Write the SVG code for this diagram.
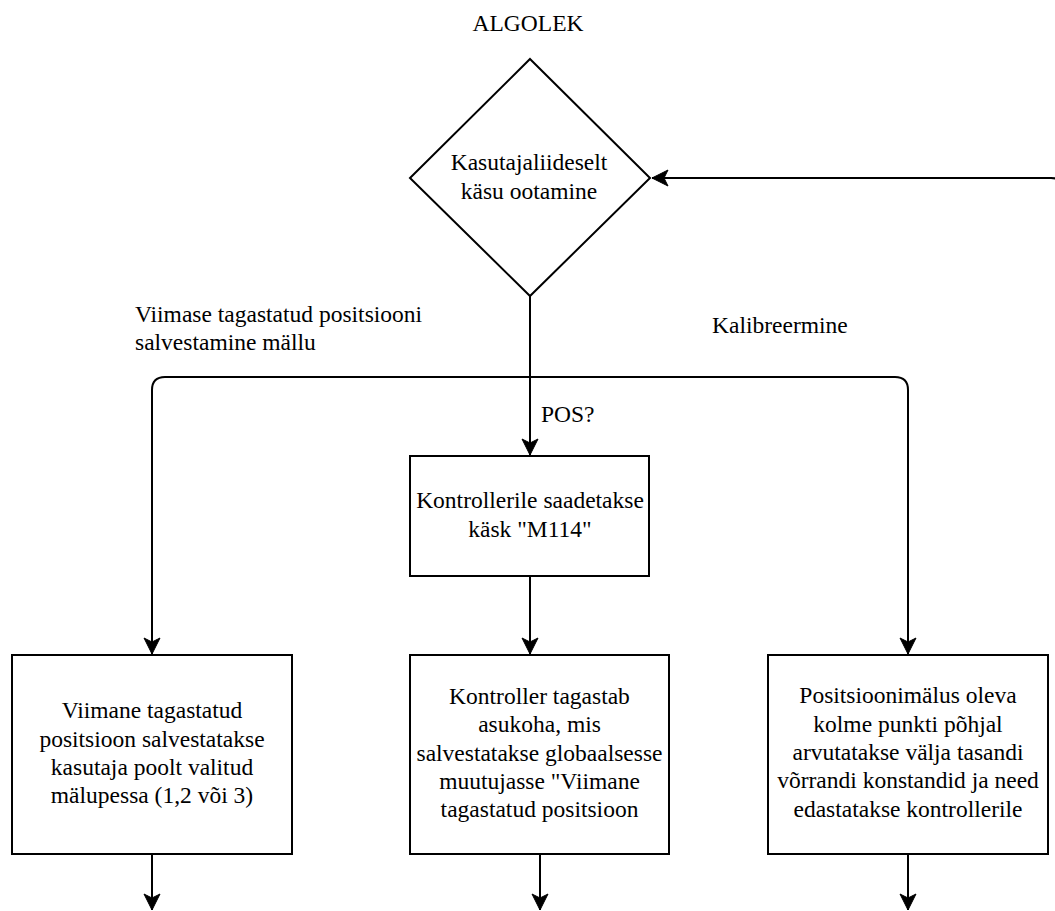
<svg xmlns="http://www.w3.org/2000/svg" width="1055" height="911" viewBox="0 0 1055 911">
  <style>
    .shape { fill: #ffffff; stroke: #000000; stroke-width: 2; }
    .wire { fill: none; stroke: #000000; stroke-width: 2; }
    .t { font-family: 'Liberation Serif', 'DejaVu Serif', serif; font-size: 23.5px; fill: #000000; }
    .c { text-anchor: middle; }
  </style>
  <defs>
    <marker id="arrow" viewBox="-17 -9 19 18" refX="0" refY="0" markerWidth="19" markerHeight="18" markerUnits="userSpaceOnUse" orient="auto">
      <path d="M 0 0 L -16 -8 L -12 0 L -16 8 Z" fill="#000000" stroke="#000000" stroke-width="1"/>
    </marker>
  </defs>

  <rect width="1055" height="911" fill="#ffffff"/>

  <text id="title" class="t c" x="528" y="31">ALGOLEK</text>

  <!-- connectors -->
  <g id="connectors">
    <!-- loop back into the decision from the right -->
    <path class="wire" d="M 1064 260 L 1064 191 Q 1064 178 1051 178 L 652 178" marker-end="url(#arrow)"/>
    <!-- decision down to the command box -->
    <path class="wire" d="M 530 296 L 530 455" marker-end="url(#arrow)"/>
    <!-- branch bus -->
    <path class="wire" d="M 152 654 L 152 390 Q 152 377 165 377 L 895 377 Q 908 377 908 390 L 908 654" marker-end="url(#arrow)"/>
    <path class="wire" d="M 152 390 L 152 654" marker-end="url(#arrow)"/>
    <!-- command box to controller reply -->
    <path class="wire" d="M 530 576 L 530 654" marker-end="url(#arrow)"/>
    <!-- outgoing arrows at the bottom -->
    <path class="wire" d="M 152 854 L 152 910" marker-end="url(#arrow)"/>
    <path class="wire" d="M 540 854 L 540 910" marker-end="url(#arrow)"/>
    <path class="wire" d="M 908 854 L 908 910" marker-end="url(#arrow)"/>
  </g>

  <!-- connector labels -->
  <g id="labels">
    <text class="t" x="135" y="322">Viimase tagastatud positsiooni</text>
    <text class="t" x="135" y="350">salvestamine mällu</text>
    <text class="t" x="712" y="333">Kalibreermine</text>
    <text class="t" x="541" y="422">POS?</text>
  </g>

  <g id="decision">
    <polygon class="shape" points="530,59 650,178 530,296 410,178"/>
    <text class="t c" x="529" y="170">Kasutajaliideselt</text>
    <text class="t c" x="529" y="199">käsu ootamine</text>
  </g>

  <g id="send-command">
    <rect class="shape" x="410" y="456" width="239" height="120"/>
    <text class="t c" x="530" y="508">Kontrollerile saadetakse</text>
    <text class="t c" x="530" y="537">käsk "M114"</text>
  </g>

  <g id="save-to-memory">
    <rect class="shape" x="12" y="655" width="280" height="199"/>
    <text class="t c" x="152" y="718">Viimane tagastatud</text>
    <text class="t c" x="152" y="747">positsioon salvestatakse</text>
    <text class="t c" x="152" y="775">kasutaja poolt valitud</text>
    <text class="t c" x="152" y="803">mälupessa (1,2 või 3)</text>
  </g>

  <g id="controller-reply">
    <rect class="shape" x="410" y="655" width="259" height="199"/>
    <text class="t c" x="539.5" y="704">Kontroller tagastab</text>
    <text class="t c" x="539.5" y="732">asukoha, mis</text>
    <text class="t c" x="539.5" y="761">salvestatakse globaalsesse</text>
    <text class="t c" x="539.5" y="789">muutujasse "Viimane</text>
    <text class="t c" x="539.5" y="817">tagastatud positsioon</text>
  </g>

  <g id="calibration">
    <rect class="shape" x="768" y="655" width="280" height="199"/>
    <text class="t c" x="908" y="703">Positsioonimälus oleva</text>
    <text class="t c" x="908" y="732">kolme punkti põhjal</text>
    <text class="t c" x="908" y="760">arvutatakse välja tasandi</text>
    <text class="t c" x="908" y="788">võrrandi konstandid ja need</text>
    <text class="t c" x="908" y="817">edastatakse kontrollerile</text>
  </g>
</svg>
